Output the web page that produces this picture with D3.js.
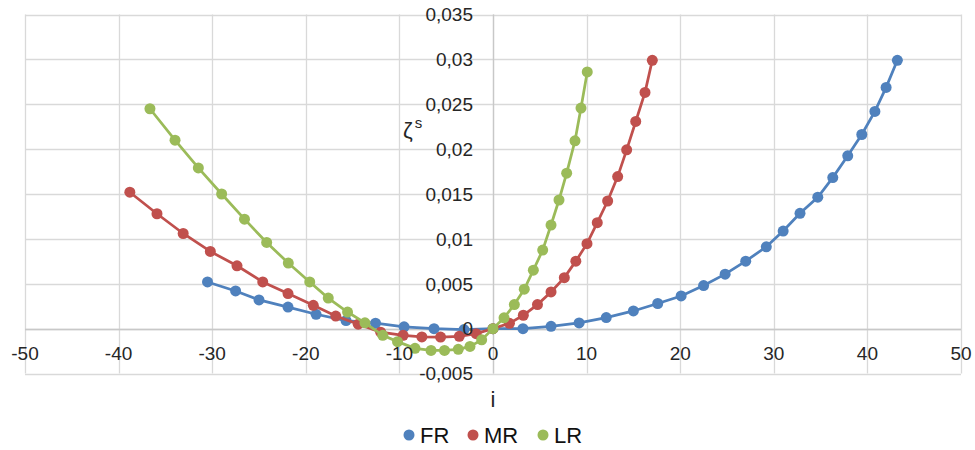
<!DOCTYPE html>
<html>
<head>
<meta charset="utf-8">
<script src="https://cdn.jsdelivr.net/npm/d3@7"></script>
<style>
  html, body { margin: 0; padding: 0; background: #fff; }
  svg { display: block; font-family: "Liberation Sans", Arial, sans-serif; }
</style>
</head>
<body>
<svg id="chart" width="975" height="450"></svg>
<script>
// Series: incidence i vs. ζ^s for the three ranks
const seriesNames = ["FR", "MR", "LR"];
const seriesColors = ["#4F81BD", "#C0504D", "#9BBB59"];

const frI = [-30.5, -27.5, -25.0, -21.9, -18.9, -15.7, -12.55, -9.5, -6.3, -3.1, 0, 3.2, 6.2, 9.2, 12.1, 15.0, 17.6, 20.1, 22.5, 24.8, 27.0, 29.2, 31.0, 32.8, 34.7, 36.3, 37.9, 39.4, 40.8, 42.0, 43.2];
const frZ = [0.0052, 0.0042, 0.0032, 0.0024, 0.0016, 0.0009, 0.0006, 0.0002, 0.0000, -0.0001, 0, 0.0000, 0.00026, 0.00063, 0.00123, 0.00197, 0.0028, 0.00364, 0.0048, 0.00607, 0.00752, 0.00912, 0.01087, 0.01285, 0.01464, 0.01683, 0.01925, 0.02163, 0.0242, 0.02688, 0.0299];

const mrI = [-38.8, -35.9, -33.1, -30.2, -27.35, -24.6, -21.9, -19.2, -16.8, -14.4, -12.0, -9.6, -7.6, -5.6, -3.6, -1.8, 0, 1.76, 3.24, 4.75, 6.2, 7.62, 8.85, 10.04, 11.14, 12.25, 13.32, 14.28, 15.25, 16.24, 17.02];
const mrZ = [0.0152, 0.0128, 0.0106, 0.0086, 0.0070, 0.0052, 0.0039, 0.0026, 0.0014, 0.0005, -0.0004, -0.00075, -0.00092, -0.00094, -0.00086, -0.00056, 0, 0.00059, 0.00149, 0.00268, 0.00409, 0.00568, 0.00752, 0.00947, 0.0118, 0.01422, 0.01694, 0.01992, 0.02308, 0.02632, 0.0299];

const lrI = [-36.65, -33.97, -31.48, -28.99, -26.55, -24.18, -21.87, -19.58, -17.6, -15.54, -13.68, -11.78, -10.2, -8.33, -6.62, -5.18, -3.71, -2.46, -1.21, 0, 1.18, 2.28, 3.34, 4.31, 5.31, 6.2, 7.05, 7.87, 8.76, 9.4, 10.07];
const lrZ = [0.0245, 0.0210, 0.0179, 0.0150, 0.0122, 0.0096, 0.0073, 0.0052, 0.0034, 0.00185, 0.00065, -0.00075, -0.00145, -0.0022, -0.00243, -0.00243, -0.00231, -0.00198, -0.00125, 0, 0.00121, 0.00268, 0.00439, 0.00651, 0.00875, 0.01154, 0.01433, 0.01732, 0.02093, 0.02458, 0.0286];

// Axis ticks and labels (decimal comma)
const xTicks = [-50, -40, -30, -20, -10, 0, 10, 20, 30, 40, 50];
const xTickLabels = ["-50", "-40", "-30", "-20", "-10", "0", "10", "20", "30", "40", "50"];
const yTicks = [-0.005, 0, 0.005, 0.01, 0.015, 0.02, 0.025, 0.03, 0.035];
const yTickLabels = ["-0,005", "0", "0,005", "0,01", "0,015", "0,02", "0,025", "0,03", "0,035"];

const series = [
  { name: seriesNames[0], color: seriesColors[0], pts: frI.map((v, k) => [v, frZ[k]]) },
  { name: seriesNames[1], color: seriesColors[1], pts: mrI.map((v, k) => [v, mrZ[k]]) },
  { name: seriesNames[2], color: seriesColors[2], pts: lrI.map((v, k) => [v, lrZ[k]]) }
];

const svg = d3.select("#chart");
const x = d3.scaleLinear().domain([-50, 50]).range([25, 961]);
const y = d3.scaleLinear().domain([-0.005, 0.035]).range([373.5, 14.5]);

// Gridlines
const grid = svg.append("g").attr("stroke", "#d9d9d9").attr("stroke-width", 1.3);
grid.selectAll("line.v").data(xTicks).join("line")
  .attr("x1", d => Math.round(x(d)) + 0.5).attr("x2", d => Math.round(x(d)) + 0.5)
  .attr("y1", y(0.035)).attr("y2", y(-0.005));
grid.selectAll("line.h").data(yTicks).join("line")
  .attr("y1", d => Math.round(y(d)) + 0.5).attr("y2", d => Math.round(y(d)) + 0.5)
  .attr("x1", x(-50)).attr("x2", x(50));

// Zero axes
svg.append("line").attr("stroke", "#c8c8c8").attr("stroke-width", 1.3)
  .attr("x1", x(-50)).attr("x2", x(50))
  .attr("y1", Math.round(y(0)) + 0.5).attr("y2", Math.round(y(0)) + 0.5);
svg.append("line").attr("stroke", "#c8c8c8").attr("stroke-width", 1.3)
  .attr("x1", Math.round(x(0)) + 0.5).attr("x2", Math.round(x(0)) + 0.5)
  .attr("y1", y(0.035)).attr("y2", y(-0.005));

// Series lines and markers
const line = d3.line().x(d => x(d[0])).y(d => y(d[1]));
series.forEach(s => {
  const g = svg.append("g");
  g.append("path").datum(s.pts)
    .attr("fill", "none").attr("stroke", s.color).attr("stroke-width", 2.75)
    .attr("d", line);
  g.selectAll("circle").data(s.pts).join("circle")
    .attr("cx", d => x(d[0])).attr("cy", d => y(d[1])).attr("r", 5.5)
    .attr("fill", s.color);
});

// Y tick labels, placed left of the vertical zero axis
svg.append("g").selectAll("text").data(yTicks).join("text")
  .attr("x", 473).attr("y", d => y(d)).attr("dy", "0.36em")
  .attr("text-anchor", "end").attr("font-size", 19).attr("fill", "#262626")
  .text((d, k) => yTickLabels[k]);

// X tick labels, below the horizontal zero axis
svg.append("g").selectAll("text").data(xTicks).join("text")
  .attr("x", d => x(d)).attr("y", y(0) + 25).attr("dy", "0.36em")
  .attr("text-anchor", "middle").attr("font-size", 19).attr("fill", "#262626")
  .text((d, k) => xTickLabels[k]);

// Axis titles
svg.append("text").attr("x", x(0)).attr("y", 407)
  .attr("text-anchor", "middle").attr("font-size", 22).attr("fill", "#262626").text("i");
const zt = svg.append("text").attr("x", 403).attr("y", 138)
  .attr("font-size", 22).attr("fill", "#262626");
zt.append("tspan").text("ζ");
zt.append("tspan").attr("font-size", 15).attr("dx", 2).attr("dy", -10).text("s");

// Legend
const legendX = [409, 473, 543];
const leg = svg.append("g").selectAll("g").data(series).join("g")
  .attr("transform", (d, k) => `translate(${legendX[k]},435)`);
leg.append("circle").attr("r", 5.5).attr("fill", d => d.color);
leg.append("text").attr("x", 11).attr("dy", "0.36em")
  .attr("font-size", 22).attr("fill", "#111").text(d => d.name);
</script>
</body>
</html>
